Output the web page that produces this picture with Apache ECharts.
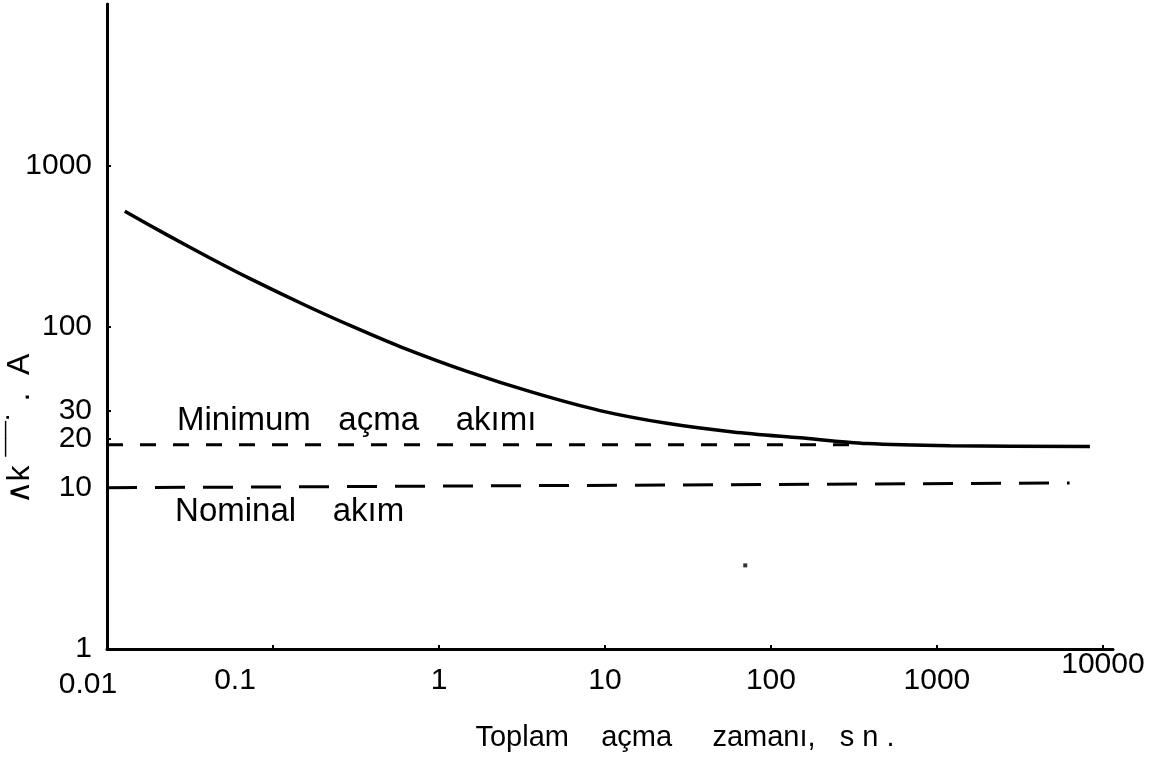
<!DOCTYPE html>
<html><head><meta charset="utf-8">
<script src="https://cdn.jsdelivr.net/npm/echarts@6/dist/echarts.min.js"></script>
<style>html,body{margin:0;padding:0;background:#fff}#c{width:1150px;height:760px}</style>
</head><body><div id="c"></div>
<script>
// ---- data ----
const xTickValues = [0.01, 0.1, 1, 10, 100, 1000, 10000];
const xTickLabels = ['0.01', '0.1', '1', '10', '100', '1000', '10000'];
const yTickValues = [1, 10, 20, 30, 100, 1000];
const yTickLabels = ['1', '10', '20', '30', '100', '1000'];
const tripTime    = [0.0128, 0.023, 0.0417, 0.0727, 0.160, 0.303, 0.582, 1.475, 3.68, 9.33, 23.6, 59, 150, 379, 1200, 8350];
const tripCurrent = [518, 370, 266, 198, 134, 99.7, 75.1, 52.7, 39.0, 30.1, 25.1, 22.2, 20.4, 18.8, 18.2, 18.0];
const minTime     = [0.01, 300];
const minCurrent  = [18.5, 18.5];
const nomTime     = [0.01, 6300];
const nomCurrent  = [10.0, 10.7];
const specks      = [[70, 3.3]];

const zip = (a, b) => a.map((v, i) => [v, b[i]]);
const same = (a, b) => Math.abs(Math.log10(a) - Math.log10(b)) < 1e-6;

const FONT = 'Liberation Sans';
const labelStyle = ['l', 'm', 'n', 'n', 'n', 'n', 'u'];
const chart = echarts.init(document.getElementById('c'), null, {renderer: 'canvas'});
chart.setOption({
  animation: false,
  backgroundColor: '#fff',
  grid: {left: 107, right: 37, top: 4, bottom: 111, containLabel: false, outerBoundsMode: 'none'},
  xAxis: {
    type: 'log', logBase: 10, min: 0.01, max: 11500,
    name: 'Toplam    açma     zamanı,   s n .',
    nameLocation: 'middle', nameGap: 74, nameMoveOverlap: false,
    nameTextStyle: {color: '#000', fontFamily: FONT, fontSize: 29, padding: [0, 0, 0, 150]},
    axisLine: {show: true, lineStyle: {color: '#000', width: 3}},
    axisTick: {show: true, inside: true, length: 4, lineStyle: {color: '#000', width: 2}, customValues: xTickValues},
    axisLabel: {
      show: true, color: '#000', fontFamily: FONT, fontSize: 30, margin: 1,
      customValues: xTickValues,
      formatter: v => {
        const i = xTickValues.findIndex(t => same(t, v));
        return i < 0 ? '' : '{' + labelStyle[i] + '|' + xTickLabels[i] + '}';
      },
      rich: {
        u: {fontFamily: FONT, fontSize: 30, color: '#000', padding: [0, 0, 0, 0]},
        n: {fontFamily: FONT, fontSize: 30, color: '#000', padding: [16, 0, 0, 0]},
        m: {fontFamily: FONT, fontSize: 30, color: '#000', padding: [16, 76, 0, 0]},
        l: {fontFamily: FONT, fontSize: 30, color: '#000', padding: [20, 38, 0, 0]}
      }
    },
    splitLine: {show: false}, minorTick: {show: false}
  },
  yAxis: {
    type: 'log', logBase: 10, min: 1, max: 10000,
    name: '∧k ¯¯˙ .  A',
    nameLocation: 'middle', nameRotate: 90, nameGap: 71, nameMoveOverlap: false,
    nameTextStyle: {color: '#000', fontFamily: FONT, fontSize: 32, padding: [0, 205, 0, 0]},
    axisLine: {show: true, lineStyle: {color: '#000', width: 3}},
    axisTick: {show: true, inside: true, length: 4, lineStyle: {color: '#000', width: 2}, customValues: [10, 20, 30, 100, 1000]},
    axisLabel: {
      show: true, color: '#000', fontFamily: FONT, fontSize: 30, margin: 15,
      customValues: yTickValues,
      formatter: v => {
        const i = yTickValues.findIndex(t => same(t, v));
        return i < 0 ? '' : yTickLabels[i];
      }
    },
    splitLine: {show: false}, minorTick: {show: false}
  },
  series: [
    {
      name: 'trip', type: 'line', data: zip(tripTime, tripCurrent), smooth: 0.3,
      showSymbol: false, lineStyle: {color: '#000', width: 3.5}, z: 3
    },
    {
      name: 'min', type: 'line', data: zip(minTime, minCurrent),
      showSymbol: false, lineStyle: {color: '#000', width: 3, type: [16, 17]},
      markPoint: {
        symbol: 'circle', symbolSize: 0.01, silent: true,
        label: {show: true, position: 'right', distance: 0, color: '#000', fontFamily: FONT, fontSize: 33,
          formatter: 'Minimum   açma    akımı'},
        data: [{coord: [0.0264, 26.1]}]
      }
    },
    {
      name: 'nominal', type: 'line', data: zip(nomTime, nomCurrent),
      showSymbol: false, lineStyle: {color: '#000', width: 3, type: [30, 18]},
      markPoint: {
        symbol: 'circle', symbolSize: 0.01, silent: true,
        label: {show: true, position: 'right', distance: 0, color: '#000', fontFamily: FONT, fontSize: 33,
          formatter: 'Nominal    akım'},
        data: [{coord: [0.0257, 7.1]}]
      }
    },
    {
      name: 'speck', type: 'scatter', data: specks, symbol: 'rect', symbolSize: 4,
      itemStyle: {color: '#000'}, silent: true
    }
  ]
});
</script>
</body></html>
